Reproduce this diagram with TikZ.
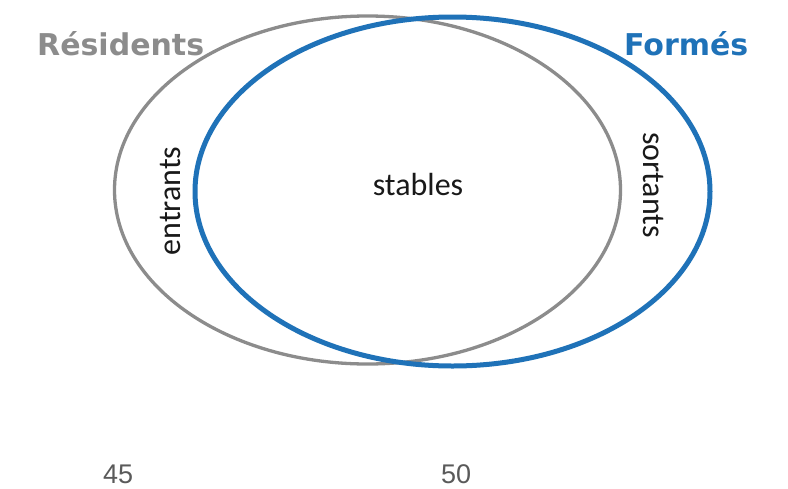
\documentclass[tikz,border=0pt]{standalone}
\usepackage{fontspec}
\usetikzlibrary{shapes.geometric}
\setmainfont{Carlito}
\newfontfamily\titlefont{DejaVu Sans}
\newfontfamily\numfont{Liberation Sans}
\definecolor{resgray}{HTML}{8C8C8C}
\definecolor{formblue}{HTML}{1F72B8}
\definecolor{numgray}{HTML}{5A5A5A}
\begin{document}
\begin{tikzpicture}[x=1pt,y=-1pt,
  title/.style={font=\titlefont\bfseries\fontsize{30}{33}\selectfont, inner sep=0pt, anchor=base west},
  lbl/.style={font=\fontsize{32}{36}\selectfont, inner sep=0pt, text=black!90, anchor=base},
  num/.style={font=\numfont\fontsize{27}{30}\selectfont, inner sep=0pt, text=numgray, anchor=base west},
  oval/.style={shape=ellipse, inner sep=0pt}]
\useasboundingbox[fill=white] (0,0) rectangle (788,488);
\node[oval, draw=resgray, line width=3.3pt, minimum width=506, minimum height=348] (res) at (367.5,190) {};
\node[oval, draw=formblue, line width=5pt, minimum width=515, minimum height=349] (form) at (452.5,191.5) {};
\node[title, text=resgray] (restitle) at (37,55) {Résidents};
\node[title, text=formblue] (formtitle) at (624,55) {Formés};
\node[lbl, rotate=90] (entrants) at (180,201) {entrants};
\node[lbl] (stables) at (418,195) {stables};
\node[lbl, rotate=-90] (sortants) at (643,185) {sortants};
\node[num] (n45) at (103,483) {45};
\node[num] (n50) at (441,483) {50};
\end{tikzpicture}
\end{document}
